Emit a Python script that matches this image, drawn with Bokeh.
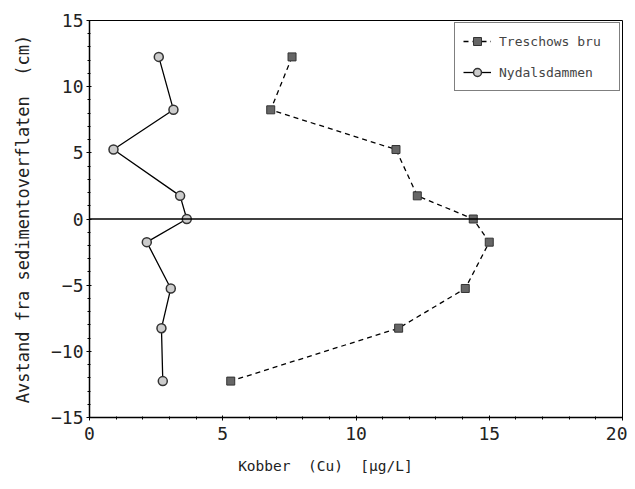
from bokeh.plotting import figure
from bokeh.models import FixedTicker, Span, Legend, LegendItem, Range1d
from bokeh.embed import file_html
from bokeh.resources import INLINE

depth = [12.25, 8.25, 5.25, 1.75, 0.0, -1.75, -5.25, -8.25, -12.25]
treschows = [7.6, 6.8, 11.5, 12.3, 14.4, 15.0, 14.1, 11.6, 5.3]
nydals = [2.6, 3.15, 0.9, 3.4, 3.65, 2.15, 3.05, 2.7, 2.75]

x_ticks = [0, 5, 10, 15, 20]
y_ticks = [-15, -10, -5, 0, 5, 10, 15]

FONT = "DejaVu Sans Mono"
NB = "\u00a0"

p = figure(width=627, height=481, output_backend="svg", toolbar_location=None,
           x_range=Range1d(0, 20), y_range=Range1d(-15, 15),
           min_border_left=89, min_border_right=5, min_border_top=20, min_border_bottom=64)
p.xgrid.visible = False
p.ygrid.visible = False
p.outline_line_color = "black"
p.outline_line_width = 1
p.background_fill_color = "white"

p.xaxis.ticker = FixedTicker(ticks=x_ticks, minor_ticks=list(range(0, 21)))
p.yaxis.ticker = FixedTicker(ticks=y_ticks, minor_ticks=list(range(-15, 16)))
for ax in (p.xaxis, p.yaxis):
    ax.axis_line_color = "black"
    ax.axis_line_width = 1.5
    ax.major_tick_in = 2
    ax.major_tick_out = 3
    ax.minor_tick_in = 1
    ax.minor_tick_out = 2
    ax.major_label_text_font = FONT
    ax.major_label_text_font_size = "18px"
    ax.major_label_text_color = "#222222"
    ax.axis_label_text_font = FONT
    ax.axis_label_text_font_style = "normal"
    ax.axis_label_text_color = "#222222"
p.xaxis.axis_label_text_font_size = "14.5px"
p.yaxis.axis_label_text_font_size = "17px"
p.xaxis.axis_label = "Kobber" + NB * 2 + "(Cu)" + NB * 2 + "[µg/L]" + NB * 7
p.yaxis.axis_label = "Avstand fra sedimentoverflaten" + NB * 2 + "(cm)"
p.xaxis.major_label_standoff = 6
p.xaxis.axis_label_standoff = 15
p.yaxis.major_label_standoff = 3
p.yaxis.axis_label_standoff = 15
p.yaxis.major_label_orientation = "horizontal"

p.add_layout(Span(location=0, dimension="width", line_color="black", line_width=1.5))

l1 = p.line(treschows, depth, line_color="black", line_width=1.3, line_dash="5 4")
s1 = p.scatter(treschows, depth, marker="square", size=8, fill_color="#666666",
               line_color="#333333", line_width=1)
l2 = p.line(nydals, depth, line_color="black", line_width=1.3)
s2 = p.scatter(nydals, depth, marker="circle", size=9, fill_color="#cccccc",
               line_color="#333333", line_width=1.5)

legend = Legend(items=[LegendItem(label="Treschows bru", renderers=[l1, s1]),
                       LegendItem(label="Nydalsdammen", renderers=[l2, s2])],
                location="top_right")
legend.label_text_font = FONT
legend.label_text_font_size = "13px"
legend.border_line_color = "black"
legend.border_line_width = 1
legend.glyph_width = 28
legend.label_standoff = 8
legend.label_width = 112
legend.spacing = 11
legend.padding = 8
legend.margin = 2
legend.background_fill_alpha = 1
p.add_layout(legend)

open("out.html", "w").write(file_html(p, INLINE))
